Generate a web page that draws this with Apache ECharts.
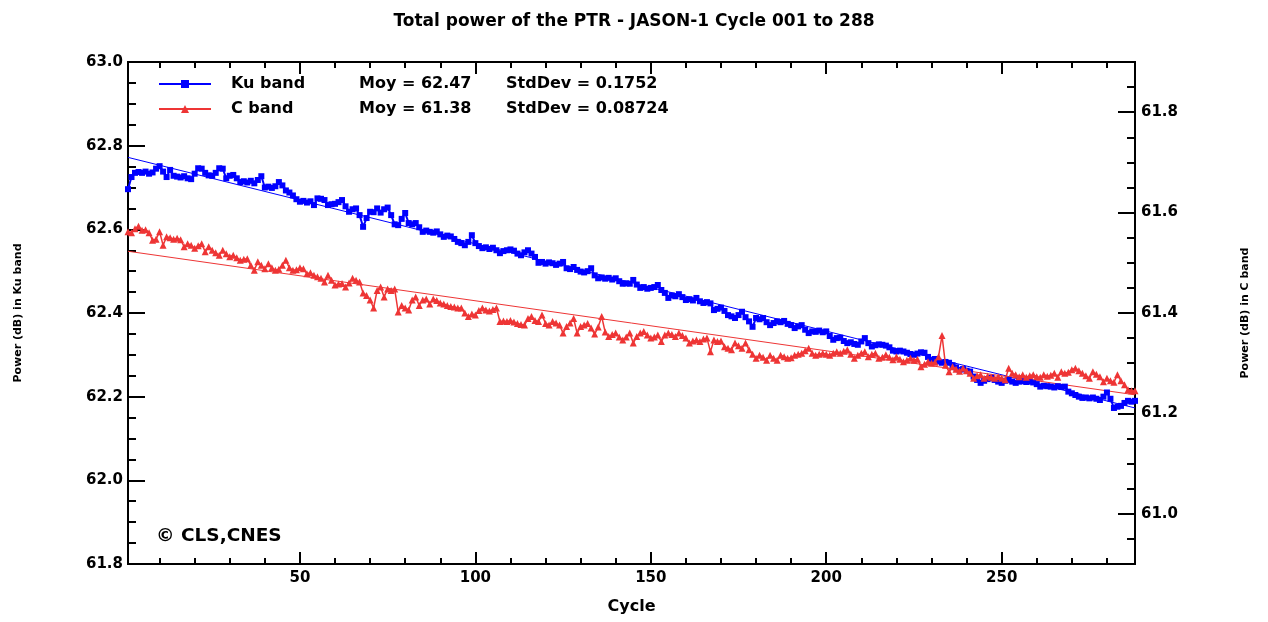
<!DOCTYPE html>
<html>
<head>
<meta charset="utf-8">
<script src="https://cdn.jsdelivr.net/npm/echarts@6/dist/echarts.min.js"></script>
<style>
html,body{margin:0;padding:0;background:#fff;}
#chart{width:1268px;height:622px;}
</style>
</head>
<body>
<div id="chart"></div>
<script>
// ---- data ----
const titleText = 'Total power of the PTR - JASON-1 Cycle 001 to 288';
const cycles = Array.from({length: 288}, (_, i) => i + 1);
const ku = [
62.696,62.725,62.735,62.737,62.735,62.738,62.733,62.736,62.745,62.751,
62.738,62.725,62.742,62.728,62.726,62.724,62.727,62.722,62.720,62.733,
62.746,62.745,62.735,62.729,62.728,62.735,62.746,62.745,62.722,62.728,
62.730,62.722,62.713,62.715,62.712,62.716,62.710,62.718,62.727,62.700,
62.702,62.699,62.703,62.713,62.705,62.693,62.688,62.681,62.672,62.666,
62.668,62.664,62.667,62.658,62.674,62.673,62.670,62.658,62.660,62.661,
62.665,62.670,62.655,62.642,62.648,62.650,62.634,62.606,62.627,62.642,
62.641,62.650,62.640,62.648,62.652,62.634,62.612,62.610,62.625,62.639,
62.615,62.612,62.615,62.605,62.594,62.597,62.594,62.592,62.595,62.588,
62.582,62.585,62.583,62.577,62.570,62.567,62.562,62.570,62.586,62.567,
62.560,62.555,62.557,62.553,62.556,62.550,62.543,62.548,62.550,62.552,
62.549,62.542,62.538,62.545,62.550,62.542,62.534,62.520,62.522,62.518,
62.521,62.519,62.515,62.518,62.522,62.507,62.505,62.510,62.503,62.499,
62.497,62.500,62.507,62.490,62.483,62.485,62.482,62.484,62.480,62.483,
62.476,62.470,62.471,62.470,62.479,62.468,62.460,62.462,62.458,62.460,
62.462,62.467,62.455,62.448,62.436,62.442,62.440,62.445,62.438,62.431,
62.433,62.430,62.436,62.428,62.424,62.426,62.423,62.407,62.410,62.413,
62.405,62.395,62.392,62.388,62.395,62.403,62.390,62.380,62.367,62.388,
62.385,62.388,62.378,62.371,62.376,62.380,62.378,62.381,62.374,62.371,
62.364,62.368,62.371,62.360,62.352,62.356,62.355,62.358,62.354,62.356,
62.345,62.336,62.340,62.341,62.333,62.328,62.330,62.326,62.324,62.332,
62.340,62.328,62.320,62.323,62.325,62.324,62.322,62.318,62.310,62.308,
62.310,62.308,62.305,62.302,62.300,62.303,62.306,62.305,62.295,62.288,
62.290,62.284,62.281,62.283,62.281,62.275,62.270,62.264,62.266,62.262,
62.260,62.248,62.240,62.233,62.238,62.242,62.245,62.240,62.236,62.233,
62.238,62.240,62.236,62.233,62.236,62.237,62.235,62.236,62.234,62.230,
62.224,62.226,62.225,62.224,62.222,62.225,62.223,62.224,62.212,62.208,
62.204,62.200,62.197,62.198,62.196,62.198,62.195,62.192,62.200,62.210,
62.195,62.173,62.176,62.178,62.185,62.190,62.188,62.190
];
const cBand = [
61.562,61.560,61.568,61.573,61.565,61.566,61.560,61.545,61.547,61.562,
61.535,61.552,61.550,61.547,61.549,61.546,61.532,61.538,61.535,61.529,
61.534,61.538,61.522,61.532,61.525,61.520,61.515,61.525,61.518,61.512,
61.515,61.510,61.505,61.507,61.508,61.495,61.485,61.502,61.495,61.488,
61.498,61.490,61.485,61.487,61.495,61.505,61.490,61.485,61.486,61.490,
61.488,61.478,61.480,61.475,61.472,61.469,61.462,61.475,61.465,61.456,
61.458,61.459,61.452,61.460,61.469,61.465,61.462,61.440,61.435,61.426,
61.410,61.445,61.452,61.432,61.448,61.445,61.448,61.402,61.415,61.410,
61.406,61.426,61.432,61.415,61.426,61.428,61.418,61.428,61.425,61.420,
61.418,61.415,61.413,61.412,61.410,61.410,61.400,61.393,61.398,61.396,
61.405,61.410,61.406,61.404,61.407,61.410,61.383,61.384,61.383,61.385,
61.382,61.379,61.377,61.376,61.389,61.393,61.385,61.383,61.396,61.379,
61.376,61.383,61.380,61.376,61.360,61.373,61.380,61.389,61.360,61.373,
61.376,61.379,61.370,61.358,61.372,61.393,61.362,61.353,61.357,61.360,
61.352,61.346,61.352,61.360,61.340,61.353,61.360,61.363,61.356,61.350,
61.352,61.356,61.343,61.356,61.360,61.357,61.353,61.360,61.355,61.350,
61.340,61.344,61.346,61.343,61.348,61.350,61.323,61.346,61.343,61.344,
61.333,61.330,61.327,61.340,61.335,61.330,61.340,61.327,61.318,61.310,
61.316,61.312,61.306,61.316,61.310,61.306,61.316,61.313,61.310,61.311,
61.316,61.318,61.320,61.325,61.330,61.320,61.316,61.318,61.320,61.318,
61.316,61.320,61.323,61.320,61.324,61.327,61.318,61.310,61.316,61.320,
61.323,61.313,61.318,61.320,61.310,61.312,61.317,61.312,61.307,61.313,
61.308,61.303,61.306,61.310,61.306,61.308,61.293,61.298,61.303,61.300,
61.302,61.313,61.355,61.296,61.283,61.293,61.288,61.284,61.290,61.285,
61.280,61.270,61.275,61.277,61.270,61.274,61.272,61.270,61.273,61.270,
61.267,61.290,61.280,61.277,61.273,61.277,61.272,61.275,61.277,61.273,
61.272,61.277,61.274,61.276,61.280,61.272,61.283,61.280,61.282,61.287,
61.290,61.285,61.280,61.275,61.270,61.283,61.278,61.273,61.263,61.270,
61.265,61.262,61.277,61.265,61.257,61.247,61.245,61.245
];
const kuFit = [[1, 62.772], [288, 62.173]];
const cFit = [[1, 61.523], [288, 61.237]];
const legendStats = {
  'Ku band': {moy: '62.47', std: '0.1752'},
  'C band': {moy: '61.38', std: '0.08724'}
};
const xMajorTicks = [50, 100, 150, 200, 250];
const xMinorTicks = [10,20,30,40,50,60,70,80,90,100,110,120,130,140,150,160,170,180,190,200,210,220,230,240,250,260,270,280];
const rightMajorTicks = [61.0, 61.2, 61.4, 61.6, 61.8];

// ---- chart ----
const FONT = 'DejaVu Sans';
const BLUE = '#0000ff';
const RED = '#ee3535';
const axisLineStyle = {color: '#000', width: 2};
const labelStyle = {color: '#000', fontFamily: FONT, fontWeight: 'bold', fontSize: 15};

function xAx(pos, ticks, len, withLabel) {
  return {
    type: 'value', min: 1, max: 288, position: pos, gridIndex: 0,
    axisLine: {show: true, onZero: false, lineStyle: axisLineStyle},
    axisTick: {show: true, inside: true, length: len, lineStyle: {color: '#000', width: 2}, customValues: ticks},
    axisLabel: withLabel ? Object.assign({show: true, margin: 7, customValues: ticks}, labelStyle) : {show: false},
    splitLine: {show: false}
  };
}

const chart = echarts.init(document.getElementById('chart'), null, {renderer: 'canvas'});
chart.setOption({
  backgroundColor: '#fff',
  animation: false,
  title: {
    text: titleText, left: 'center', top: 8,
    textStyle: {fontFamily: FONT, fontWeight: 'bold', fontSize: 17, color: '#000'}
  },
  grid: {left: 128, right: 133, top: 62, bottom: 58, containLabel: false},
  legend: {
    orient: 'vertical', left: 153, top: 71, itemWidth: 52, itemHeight: 10, itemGap: 9,
    data: ['Ku band', 'C band'],
    formatter: function (name) {
      const s = legendStats[name];
      return '{sp| }{n|' + name + '}{m|Moy = ' + s.moy + '}{s|StdDev = ' + s.std + '}';
    },
    textStyle: {
      fontFamily: FONT, fontWeight: 'bold', fontSize: 16, color: '#000',
      rich: {
        sp: {width: 15, fontFamily: FONT, fontSize: 16},
        n: {width: 128, fontFamily: FONT, fontWeight: 'bold', fontSize: 16, color: '#000'},
        m: {width: 147, fontFamily: FONT, fontWeight: 'bold', fontSize: 16, color: '#000'},
        s: {fontFamily: FONT, fontWeight: 'bold', fontSize: 16, color: '#000'}
      }
    }
  },
  xAxis: [
    Object.assign(xAx('bottom', xMajorTicks, 12, true), {
      name: 'Cycle', nameLocation: 'middle', nameGap: 35,
      nameTextStyle: {fontFamily: FONT, fontWeight: 'bold', fontSize: 16, color: '#000'}
    }),
    xAx('bottom', xMinorTicks, 6, false),
    xAx('top', xMajorTicks, 12, false),
    xAx('top', xMinorTicks, 6, false)
  ],
  yAxis: [
    {
      type: 'value', position: 'left', min: 61.8, max: 63.0, interval: 0.2,
      axisLine: {show: true, onZero: false, lineStyle: axisLineStyle},
      axisTick: {show: true, inside: true, length: 17, lineStyle: {color: '#000', width: 2}},
      minorTick: {show: true, splitNumber: 4, length: 8, lineStyle: {color: '#000', width: 2}},
      axisLabel: Object.assign({margin: 5, formatter: v => v.toFixed(1)}, labelStyle),
      splitLine: {show: false}, minorSplitLine: {show: false},
      name: 'Power (dB) in Ku band', nameLocation: 'middle', nameGap: 104, nameRotate: 90,
      nameTextStyle: {fontFamily: FONT, fontWeight: 'bold', fontSize: 11, color: '#000'}
    },
    {
      type: 'value', position: 'right', min: 60.9, max: 61.9,
      axisLine: {show: true, onZero: false, lineStyle: axisLineStyle},
      axisTick: {show: true, inside: true, length: 17, lineStyle: {color: '#000', width: 2}, customValues: rightMajorTicks},
      axisLabel: Object.assign({margin: 6, customValues: rightMajorTicks, formatter: v => v.toFixed(1)}, labelStyle),
      splitLine: {show: false},
      name: 'Power (dB) in C band', nameLocation: 'middle', nameGap: 105, nameRotate: 90,
      nameTextStyle: {fontFamily: FONT, fontWeight: 'bold', fontSize: 11, color: '#000'}
    },
    {
      type: 'value', position: 'right', min: 60.9, max: 61.9, interval: 0.05,
      axisLine: {show: true, onZero: false, lineStyle: axisLineStyle},
      axisTick: {show: true, inside: true, length: 8, lineStyle: {color: '#000', width: 2}},
      axisLabel: {show: false}, splitLine: {show: false}
    }
  ],
  graphic: [
    {type: 'text', left: 156, top: 527,
     style: {text: '\u00a9 CLS,CNES', fontFamily: FONT, fontWeight: 'bold', fontSize: 18.5, fill: '#000'}}
  ],
  series: [
    {
      name: 'Ku band', type: 'line', xAxisIndex: 0, yAxisIndex: 0,
      data: ku.map((v, i) => [cycles[i], v]),
      symbol: 'rect', symbolSize: 6, showSymbol: true,
      itemStyle: {color: BLUE}, lineStyle: {color: BLUE, width: 2}, z: 3
    },
    {
      name: 'C band', type: 'line', xAxisIndex: 0, yAxisIndex: 1,
      data: cBand.map((v, i) => [cycles[i], v]),
      symbol: 'triangle', symbolSize: 7, showSymbol: true,
      itemStyle: {color: RED}, lineStyle: {color: RED, width: 1.5}, z: 4
    },
    {
      name: 'Ku fit', type: 'line', xAxisIndex: 0, yAxisIndex: 0, data: kuFit,
      symbol: 'none', lineStyle: {color: BLUE, width: 1}, z: 2
    },
    {
      name: 'C fit', type: 'line', xAxisIndex: 0, yAxisIndex: 1, data: cFit,
      symbol: 'none', lineStyle: {color: RED, width: 1}, z: 2
    }
  ]
});
</script>
</body>
</html>
